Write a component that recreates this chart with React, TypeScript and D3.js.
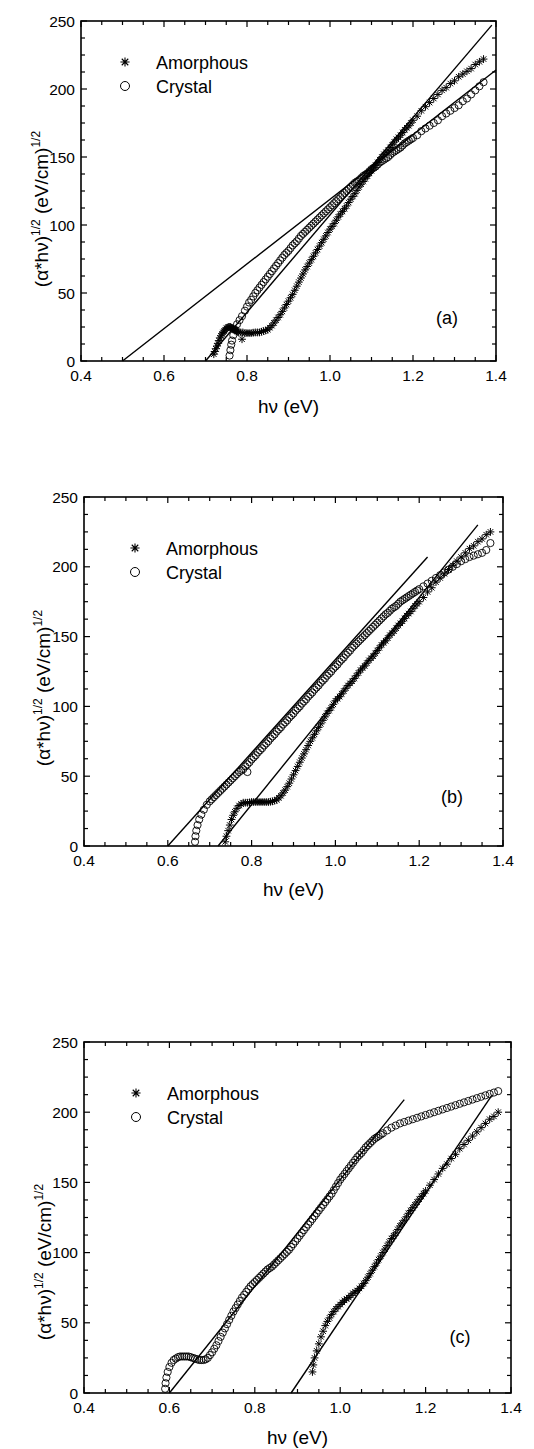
import React from "react";
import * as d3 from "d3";

// ---------- data ----------
const X_MAJOR = [0.4, 0.6, 0.8, 1.0, 1.2, 1.4];
const X_LABELS = ["0.4", "0.6", "0.8", "1.0", "1.2", "1.4"];
const Y_MAJOR = [0, 50, 100, 150, 200, 250];
const Y_LABELS = ["0", "50", "100", "150", "200", "250"];
const SERIES_NAMES = ["Amorphous", "Crystal"];
const PANEL_TAGS = ["(a)", "(b)", "(c)"];

type P = [number, number];

const aAmor: P[] = [
  [0.72, 5], [0.725, 9], [0.73, 13], [0.735, 17], [0.74, 20], [0.745, 22], [0.75, 24], [0.755, 25], [0.76, 25],
  [0.765, 24], [0.77, 23], [0.775, 22], [0.78, 21], [0.788, 16], [0.79, 21], [0.8, 20.5], [0.81, 20.5], [0.82, 21],
  [0.83, 21], [0.84, 22], [0.85, 23], [0.86, 26], [0.87, 30], [0.88, 34], [0.89, 39], [0.9, 44], [0.91, 49],
  [0.92, 55], [0.93, 61], [0.94, 67], [0.95, 72], [0.96, 77], [0.97, 82], [0.98, 87], [0.99, 92], [1.0, 97],
  [1.01, 101], [1.02, 106], [1.03, 110], [1.04, 114], [1.05, 119], [1.06, 123], [1.07, 128], [1.08, 132],
  [1.09, 136], [1.1, 140], [1.11, 144], [1.12, 148], [1.13, 152], [1.14, 155], [1.15, 159], [1.16, 163],
  [1.17, 166], [1.18, 170], [1.19, 173], [1.2, 177], [1.21, 180], [1.22, 184], [1.23, 187], [1.24, 190],
  [1.25, 193], [1.26, 196], [1.27, 199], [1.28, 201], [1.29, 204], [1.3, 206], [1.31, 209], [1.32, 211],
  [1.33, 213], [1.34, 215], [1.35, 218], [1.36, 220], [1.37, 222],
];
const aAmorDense: P[] = [
  [0.7225, 7], [0.7275, 11], [0.7325, 15], [0.7375, 18.5], [0.7425, 21], [0.7475, 23], [0.7525, 24.5],
  [0.7575, 25], [0.7625, 24.5], [0.7675, 23.5], [0.7725, 22.5], [0.7775, 21.5], [0.785, 21], [0.795, 20.5],
  [0.805, 20.5], [0.815, 20.8], [0.825, 21], [0.835, 21.5], [0.845, 22.5], [0.855, 24.5], [0.865, 28],
  [0.875, 32], [0.885, 36.5], [0.895, 41.5], [0.905, 46.5], [0.915, 52], [0.925, 58], [0.935, 64], [0.945, 69.5],
  [0.955, 74.5], [0.965, 79.5], [0.975, 84.5], [0.985, 89.5], [0.995, 94.5], [1.005, 99], [1.015, 103.5],
  [1.025, 108], [1.035, 112], [1.045, 116.5], [1.055, 121], [1.065, 125.5], [1.075, 130], [1.085, 134],
  [1.095, 138], [1.105, 142], [1.115, 146], [1.125, 150], [1.135, 153.5], [1.145, 157], [1.155, 161],
  [1.165, 164.5], [1.175, 168], [1.185, 171.5], [1.195, 175],
];
const aCryst: P[] = [
  [0.758, 4], [0.76, 8], [0.762, 12], [0.764, 15], [0.767, 19], [0.771, 23], [0.776, 27], [0.782, 30], [0.788, 33],
  [0.795, 37], [0.8, 40], [0.805, 43], [0.81, 45], [0.815, 47.5], [0.82, 50], [0.83, 54], [0.84, 58], [0.85, 62],
  [0.86, 66], [0.87, 70], [0.88, 74], [0.89, 78], [0.9, 81], [0.91, 85], [0.92, 88], [0.93, 92], [0.94, 95],
  [0.95, 98], [0.96, 101], [0.97, 104], [0.98, 107], [0.99, 110], [1.0, 113], [1.01, 116], [1.02, 119],
  [1.03, 122], [1.04, 125], [1.05, 128], [1.06, 131], [1.07, 133], [1.08, 136], [1.09, 138], [1.1, 141],
  [1.11, 143], [1.12, 146], [1.13, 148], [1.14, 150], [1.15, 153], [1.16, 155], [1.17, 157], [1.18, 160],
  [1.19, 162], [1.2, 164], [1.21, 166], [1.22, 169], [1.23, 171], [1.24, 173], [1.25, 175], [1.26, 177],
  [1.27, 180], [1.28, 182], [1.29, 184], [1.3, 186], [1.31, 188], [1.32, 191], [1.33, 193], [1.34, 196],
  [1.35, 199], [1.36, 202], [1.37, 205],
];
const aCrystDense: P[] = [
  [0.825, 52], [0.835, 56], [0.845, 60], [0.855, 64], [0.865, 68], [0.875, 72], [0.885, 76], [0.895, 79.5],
  [0.905, 83], [0.915, 86.5], [0.925, 90], [0.935, 93.5], [0.945, 96.5], [0.955, 99.5], [0.965, 102.5],
  [0.975, 105.5], [0.985, 108.5], [0.995, 111.5], [1.005, 114.5], [1.015, 117.5], [1.025, 120.5], [1.035, 123.5],
  [1.045, 126.5], [1.055, 129.5], [1.065, 132], [1.075, 134.5], [1.085, 137], [1.095, 139.5], [1.105, 142],
  [1.115, 144.5], [1.125, 147], [1.135, 149], [1.145, 151.5], [1.155, 154], [1.165, 156], [1.175, 158.5],
  [1.185, 161], [1.195, 163],
];
const aFits: P[][] = [
  [[0.7, 0], [1.39, 247]],
  [[0.5, 0], [1.4, 214]],
];

const bAmor: P[] = [
  [0.737, 3], [0.74, 7], [0.744, 11], [0.748, 15], [0.752, 19], [0.756, 22], [0.76, 24.5], [0.765, 27], [0.77, 29],
  [0.775, 30], [0.78, 31], [0.79, 31], [0.8, 31.5], [0.81, 31.5], [0.82, 31.5], [0.83, 31.5], [0.84, 31.5],
  [0.85, 32], [0.86, 33], [0.87, 36], [0.88, 40], [0.89, 45], [0.9, 51], [0.91, 57], [0.92, 63], [0.93, 69],
  [0.94, 75], [0.95, 80], [0.96, 85], [0.97, 90], [0.98, 95], [0.99, 99], [1.0, 104], [1.01, 107], [1.02, 111],
  [1.03, 115], [1.04, 118], [1.05, 122], [1.06, 126], [1.07, 129], [1.08, 133], [1.09, 136], [1.1, 140],
  [1.11, 144], [1.12, 147], [1.13, 151], [1.14, 154], [1.15, 158], [1.16, 161], [1.17, 165], [1.18, 168],
  [1.19, 172], [1.2, 175], [1.21, 178], [1.22, 182], [1.23, 185], [1.24, 189], [1.25, 192], [1.26, 195],
  [1.27, 198], [1.28, 201], [1.29, 204], [1.3, 207], [1.31, 210], [1.32, 213], [1.33, 215], [1.34, 218],
  [1.35, 220], [1.36, 223], [1.37, 225],
];
const bAmorDense: P[] = [
  [0.785, 31], [0.795, 31.2], [0.805, 31.5], [0.815, 31.5], [0.825, 31.5], [0.835, 31.5], [0.845, 31.7],
  [0.855, 32.5], [0.865, 34.5], [0.875, 38], [0.885, 42.5], [0.895, 48], [0.905, 54], [0.915, 60], [0.925, 66],
  [0.935, 72], [0.945, 77.5], [0.955, 82.5], [0.965, 87.5], [0.975, 92.5], [0.985, 97], [0.995, 101.5],
  [1.005, 105.5], [1.015, 109], [1.025, 113], [1.035, 116.5], [1.045, 120], [1.055, 124], [1.065, 127.5],
  [1.075, 131], [1.085, 134.5], [1.095, 138], [1.105, 142], [1.115, 145.5], [1.125, 149], [1.135, 152.5],
  [1.145, 156], [1.155, 159.5], [1.165, 163], [1.175, 166.5], [1.185, 170], [1.195, 173.5],
];
const bCryst: P[] = [
  [0.665, 3], [0.666, 7], [0.668, 11], [0.671, 15], [0.675, 19], [0.68, 22.5], [0.686, 26], [0.693, 29.5],
  [0.7, 32], [0.71, 35], [0.72, 38], [0.73, 41], [0.74, 44], [0.75, 47], [0.76, 50], [0.77, 53], [0.78, 55],
  [0.79, 53], [0.79, 58.5], [0.8, 62], [0.81, 65], [0.82, 68.5], [0.83, 72], [0.84, 75], [0.85, 78.5], [0.86, 82],
  [0.87, 85], [0.88, 88.5], [0.89, 92], [0.9, 95], [0.91, 98.5], [0.92, 102], [0.93, 105], [0.94, 108.5],
  [0.95, 112], [0.96, 115], [0.97, 118.5], [0.98, 122], [0.99, 125], [1.0, 128.5], [1.01, 132], [1.02, 135],
  [1.03, 138.5], [1.04, 142], [1.05, 145], [1.06, 148], [1.07, 151], [1.08, 154], [1.09, 157], [1.1, 160],
  [1.11, 163], [1.12, 166], [1.13, 168.5], [1.14, 171], [1.15, 173.5], [1.16, 176], [1.17, 178], [1.18, 180],
  [1.19, 182], [1.2, 184], [1.21, 186], [1.22, 188], [1.23, 190], [1.24, 192], [1.25, 194], [1.26, 196],
  [1.27, 198], [1.28, 200], [1.29, 202], [1.3, 204], [1.31, 205.5], [1.32, 207], [1.33, 208], [1.34, 209],
  [1.35, 210], [1.36, 212], [1.37, 217],
];
const bCrystDense: P[] = [
  [0.705, 33.5], [0.715, 36.5], [0.725, 39.5], [0.735, 42.5], [0.745, 45.5], [0.755, 48.5], [0.765, 51.5],
  [0.775, 54], [0.785, 57], [0.795, 60], [0.805, 63.5], [0.815, 67], [0.825, 70], [0.835, 73.5], [0.845, 77],
  [0.855, 80], [0.865, 83.5], [0.875, 87], [0.885, 90], [0.895, 93.5], [0.905, 97], [0.915, 100], [0.925, 103.5],
  [0.935, 107], [0.945, 110], [0.955, 113.5], [0.965, 117], [0.975, 120], [0.985, 123.5], [0.995, 127],
  [1.005, 130], [1.015, 133.5], [1.025, 137], [1.035, 140], [1.045, 143.5], [1.055, 146.5], [1.065, 149.5],
  [1.075, 152.5], [1.085, 155.5], [1.095, 158.5], [1.105, 161.5], [1.115, 164.5], [1.125, 167], [1.135, 170],
  [1.145, 172], [1.155, 175], [1.165, 177], [1.175, 179], [1.185, 181], [1.195, 183],
];
const bFits: P[][] = [
  [[0.72, 0], [1.34, 230]],
  [[0.6, 0], [1.22, 207]],
];

const cAmor: P[] = [
  [0.935, 15], [0.937, 20], [0.94, 25], [0.945, 30], [0.95, 35], [0.955, 40], [0.96, 44], [0.965, 48], [0.97, 51],
  [0.98, 56], [0.99, 60], [1.0, 63], [1.01, 66], [1.02, 68], [1.03, 71], [1.04, 73], [1.05, 76], [1.06, 80],
  [1.07, 85], [1.08, 90], [1.09, 95], [1.1, 100], [1.11, 105], [1.12, 110], [1.13, 114], [1.14, 119], [1.15, 123],
  [1.16, 128], [1.17, 132], [1.18, 136], [1.19, 140], [1.2, 144], [1.21, 148], [1.22, 152], [1.23, 156],
  [1.24, 160], [1.25, 163], [1.26, 167], [1.27, 170], [1.28, 174], [1.29, 177], [1.3, 180], [1.31, 183],
  [1.32, 186], [1.33, 189], [1.34, 192], [1.35, 195], [1.36, 197], [1.37, 200],
];
const cAmorDense: P[] = [
  [0.975, 53.5], [0.985, 58], [0.995, 61.5], [1.005, 64.5], [1.015, 67], [1.025, 69.5], [1.035, 72],
  [1.045, 74.5], [1.055, 78], [1.065, 82.5], [1.075, 87.5], [1.085, 92.5], [1.095, 97.5], [1.105, 102.5],
  [1.115, 107.5], [1.125, 112], [1.135, 116.5], [1.145, 121], [1.155, 125.5], [1.165, 130], [1.175, 134],
  [1.185, 138], [1.195, 142],
];
const cCryst: P[] = [
  [0.59, 3], [0.591, 7], [0.593, 11], [0.596, 15], [0.6, 18.5], [0.605, 21.5], [0.61, 23.5], [0.62, 25.5],
  [0.63, 26], [0.64, 26], [0.65, 25.5], [0.66, 24.5], [0.67, 23.5], [0.68, 23.5], [0.69, 25], [0.7, 29], [0.71, 34],
  [0.72, 40], [0.73, 46], [0.74, 52], [0.75, 58], [0.76, 63], [0.77, 68], [0.78, 72], [0.79, 76], [0.8, 79],
  [0.81, 82], [0.82, 85], [0.83, 88], [0.84, 90], [0.85, 93], [0.86, 96], [0.87, 99], [0.88, 102], [0.89, 106],
  [0.9, 110], [0.91, 114], [0.92, 118], [0.93, 122], [0.94, 126], [0.95, 130], [0.96, 134], [0.97, 138],
  [0.98, 142], [0.99, 147], [1.0, 152], [1.01, 156], [1.02, 160], [1.03, 164], [1.04, 168], [1.05, 171],
  [1.06, 175], [1.07, 178], [1.08, 181], [1.09, 183], [1.1, 185], [1.11, 187], [1.12, 189], [1.13, 190.5],
  [1.14, 192], [1.15, 193], [1.16, 194], [1.17, 195], [1.18, 196], [1.19, 197], [1.2, 198], [1.21, 199],
  [1.22, 200], [1.23, 201], [1.24, 202], [1.25, 203], [1.26, 204], [1.27, 205], [1.28, 206], [1.29, 207],
  [1.3, 208], [1.31, 209], [1.32, 210], [1.33, 211], [1.34, 212], [1.35, 213], [1.36, 214], [1.37, 215],
];
const cCrystDense: P[] = [
  [0.615, 24.5], [0.625, 26], [0.635, 26], [0.645, 26], [0.655, 25], [0.665, 24], [0.675, 23.5], [0.685, 24],
  [0.695, 27], [0.705, 31.5], [0.715, 37], [0.725, 43], [0.735, 49], [0.745, 55], [0.755, 60.5], [0.765, 65.5],
  [0.775, 70], [0.785, 74], [0.795, 77.5], [0.805, 80.5], [0.815, 83.5], [0.825, 86.5], [0.835, 89],
  [0.845, 91.5], [0.855, 94.5], [0.865, 97.5], [0.875, 100.5], [0.885, 104], [0.895, 108], [0.905, 112],
  [0.915, 116], [0.925, 120], [0.935, 124], [0.945, 128], [0.955, 132], [0.965, 136], [0.975, 140],
  [0.985, 144.5], [0.995, 149.5], [1.005, 154], [1.015, 158], [1.025, 162], [1.035, 166], [1.045, 169.5],
  [1.055, 173], [1.065, 176.5], [1.075, 179.5], [1.085, 182], [1.095, 184],
];
const cFits: P[][] = [
  [[0.885, 0], [1.355, 212]],
  [[0.6, 0], [1.15, 209]],
];

// ---------- layout ----------
const PANELS = [
  { amor: aAmor.concat(aAmorDense), cryst: aCryst.concat(aCrystDense), fits: aFits, tag: PANEL_TAGS[0],
    box: { l: 81, r: 496, t: 21, b: 361 }, tagPos: [447, 324], leg: [125, 62, 156], yTitle: [48, 209], xTitleY: 413 },
  { amor: bAmor.concat(bAmorDense), cryst: bCryst.concat(bCrystDense), fits: bFits, tag: PANEL_TAGS[1],
    box: { l: 84, r: 503, t: 497, b: 846 }, tagPos: [452, 803], leg: [135, 548, 166], yTitle: [50, 688], xTitleY: 896 },
  { amor: cAmor.concat(cAmorDense), cryst: cCryst.concat(cCrystDense), fits: cFits, tag: PANEL_TAGS[2],
    box: { l: 84, r: 511, t: 1042, b: 1393 }, tagPos: [460, 1343], leg: [136, 1093, 167], yTitle: [51, 1262], xTitleY: 1444 },
];

const FONT = "'Liberation Sans', Arial, Helvetica, sans-serif";

function starPath(s: number) {
  const d = s * 0.7071;
  return `M${-s},0H${s}M0,${-s}V${s}M${-d},${-d}L${d},${d}M${-d},${d}L${d},${-d}`;
}

function Panel({ p }: { p: (typeof PANELS)[number] }) {
  const { l, r, t, b } = p.box;
  const x = d3.scaleLinear().domain([0.4, 1.4]).range([l, r]);
  const y = d3.scaleLinear().domain([0, 250]).range([b, t]);
  const xMinor = d3.range(0.4, 1.4001, 0.05);
  const yMinor = d3.range(0, 250.01, 12.5);
  const isMajorX = (v: number) => X_MAJOR.some((m) => Math.abs(m - v) < 1e-6);
  const isMajorY = (v: number) => Y_MAJOR.some((m) => Math.abs(m - v) < 1e-6);
  const line = d3.line<P>().x((d) => x(d[0])).y((d) => y(d[1]));
  const [lx, ly, tx] = p.leg;
  return (
    <g>
      {p.fits.map((f, i) => (
        <path key={"f" + i} d={line(f) || ""} fill="none" stroke="#000" strokeWidth={1.4} />
      ))}
      {p.cryst.map((d, i) => (
        <circle key={"c" + i} cx={x(d[0])} cy={y(d[1])} r={3.6} fill="none" stroke="#000" strokeWidth={0.9} />
      ))}
      {p.amor.map((d, i) => (
        <path key={"a" + i} d={starPath(3.9)} transform={`translate(${x(d[0])},${y(d[1])})`}
          fill="none" stroke="#000" strokeWidth={1} />
      ))}
      {xMinor.map((v, i) => {
        const len = isMajorX(v) ? 6 : 4;
        return (
          <g key={"xt" + i}>
            <line x1={x(v)} x2={x(v)} y1={b} y2={b - len} stroke="#000" strokeWidth={1.2} />
            <line x1={x(v)} x2={x(v)} y1={t} y2={t + len} stroke="#000" strokeWidth={1.2} />
          </g>
        );
      })}
      {yMinor.map((v, i) => {
        const len = isMajorY(v) ? 6 : 4;
        return (
          <g key={"yt" + i}>
            <line x1={l} x2={l + len} y1={y(v)} y2={y(v)} stroke="#000" strokeWidth={1.2} />
            <line x1={r} x2={r - len} y1={y(v)} y2={y(v)} stroke="#000" strokeWidth={1.2} />
          </g>
        );
      })}
      <rect x={l} y={t} width={r - l} height={b - t} fill="none" stroke="#000" strokeWidth={1.6} />
      {X_MAJOR.map((v, i) => (
        <text key={"xl" + i} x={x(v)} y={b + 20} textAnchor="middle" fontSize={15.5} fontFamily={FONT}>
          {X_LABELS[i]}
        </text>
      ))}
      {Y_MAJOR.map((v, i) => (
        <text key={"yl" + i} x={l - 6} y={y(v) + 5.5} textAnchor="end" fontSize={15.5} fontFamily={FONT}>
          {Y_LABELS[i]}
        </text>
      ))}
      <text x={(l + r) / 2} y={p.xTitleY} textAnchor="middle" fontSize={19} fontFamily={FONT}>
        hν (eV)
      </text>
      <text transform={`translate(${p.yTitle[0]},${p.yTitle[1]}) rotate(-90)`} textAnchor="middle"
        fontSize={19} fontFamily={FONT}>
        (α*hν)<tspan fontSize={12} dy={-8}>1/2</tspan>
        <tspan dy={8}> (eV/cm)</tspan>
        <tspan fontSize={12} dy={-8}>1/2</tspan>
      </text>
      <path d={starPath(4.6)} transform={`translate(${lx},${ly})`} fill="none" stroke="#000" strokeWidth={1.1} />
      <text x={tx} y={ly + 6.5} fontSize={18} fontFamily={FONT}>{SERIES_NAMES[0]}</text>
      <circle cx={lx} cy={ly + 24} r={4.5} fill="none" stroke="#000" strokeWidth={1} />
      <text x={tx} y={ly + 30.5} fontSize={18} fontFamily={FONT}>{SERIES_NAMES[1]}</text>
      <text x={p.tagPos[0]} y={p.tagPos[1]} textAnchor="middle" fontSize={18} fontFamily={FONT}>{p.tag}</text>
    </g>
  );
}

export default function App() {
  return (
    <div style={{ position: "absolute", left: 0, top: 0, width: 534, height: 1449, background: "#fff" }}>
      <svg width={534} height={1449} style={{ display: "block" }}>
        <rect width={534} height={1449} fill="#fff" />
        {PANELS.map((p, i) => (
          <Panel key={i} p={p} />
        ))}
      </svg>
    </div>
  );
}
